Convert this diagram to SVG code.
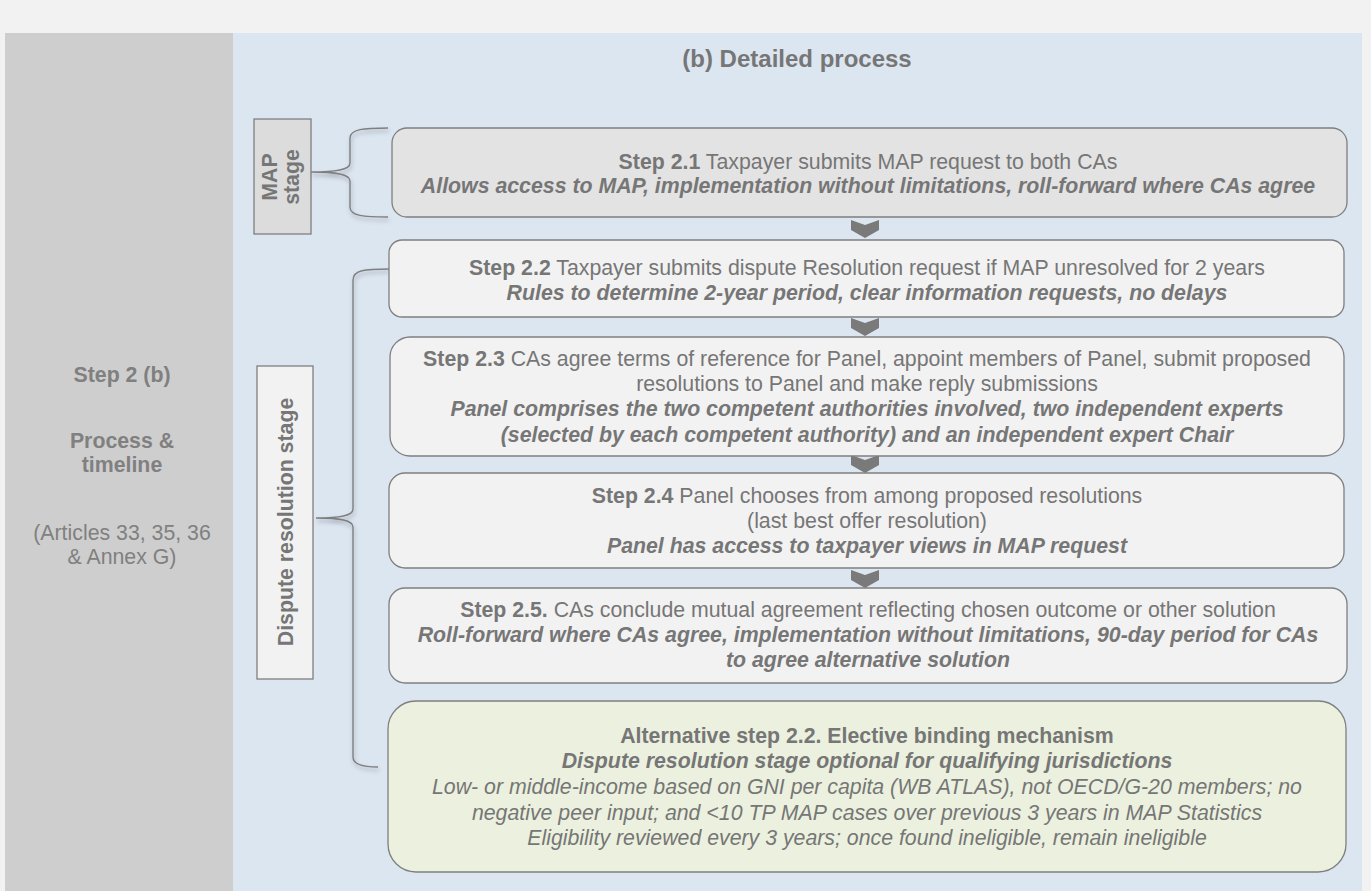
<svg xmlns="http://www.w3.org/2000/svg" width="1371" height="891" viewBox="0 0 1371 891">
  <defs>
    <filter id="braceShadow" x="-20%" y="-5%" width="160%" height="115%">
      <feDropShadow dx="1" dy="3" stdDeviation="2" flood-color="#000" flood-opacity="0.3"/>
    </filter>
    <style>
      text { font-family: "Liberation Sans", Arial, sans-serif; fill: #767676; }
      .body { font-size: 21.3px; text-anchor: middle; }
      .b { font-weight: bold; }
      .bi { font-weight: bold; font-style: italic; }
      .i { font-style: italic; }
      .step { stroke: #7f7f7f; stroke-width: 1.3; }
      .grey { fill: #e3e3e3; }
      .light { fill: #f2f2f2; }
      .green { fill: #ebf1de; }
      .label { fill: #f2f2f2; stroke: #7f7f7f; stroke-width: 1.3; }
      .chev { fill: #7a7a7a; }
      .brace { fill: none; stroke: #7f7f7f; stroke-width: 1.4; filter: url(#braceShadow); }
      .side { font-size: 21.3px; text-anchor: middle; fill: #808080; }
    </style>
  </defs>

  <!-- page and panels -->
  <rect x="0" y="0" width="1371" height="891" fill="#f2f2f2"/>
  <rect x="5" y="33" width="228" height="858" fill="#cecece"/>
  <rect x="233" y="33" width="1129" height="858" fill="#dce6f1"/>

  <text x="797" y="67" font-size="24" font-weight="bold" text-anchor="middle" fill="#737373">(b) Detailed process</text>

  <!-- left column caption -->
  <g id="side-caption">
    <text class="side b" x="122" y="382">Step 2 (b)</text>
    <text class="side b" x="122" y="448">Process &amp;</text>
    <text class="side b" x="122" y="472">timeline</text>
    <text class="side" x="122" y="540">(Articles 33, 35, 36</text>
    <text class="side" x="122" y="564">&amp; Annex G)</text>
  </g>

  <!-- stage labels -->
  <g id="map-stage">
    <rect x="254" y="119" width="57" height="115" fill="#dcdcdc" stroke="#7f7f7f" stroke-width="1.3"/>
    <text class="body b" transform="translate(277,177) rotate(-90)">MAP</text>
    <text class="body b" transform="translate(299,177) rotate(-90)">stage</text>
  </g>
  <g id="dispute-stage">
    <rect class="label" x="257" y="366" width="56" height="313"/>
    <text class="body b" transform="translate(293,522) rotate(-90)">Dispute resolution stage</text>
  </g>

  <!-- braces and flow chevrons -->
  <g id="connectors">
    <path class="brace" d="M388,128 C364,128 350,129 350,138 L350,163 C350,170 336,172 311,172 C336,172 350,174 350,181 L350,207 C350,216 364,217 388,217"/>
    <path class="brace" d="M389,269 C365,269 353,270 353,280 L353,509 C353,516 340,518 316,518 C340,518 353,520 353,527 L353,757 C353,765 364,767 378,767"/>
    <polygon class="chev" points="851,220 865,225 879,220 879,230 865,238 851,230"/>
    <polygon class="chev" points="851,318 865,323 879,318 879,328 865,336 851,328"/>
    <polygon class="chev" points="851,455 865,460 879,455 879,465 865,473 851,465"/>
    <polygon class="chev" points="851,570 865,575 879,570 879,580 865,588 851,580"/>
  </g>

  <g id="step-2-1">
    <rect class="step grey" x="392" y="128" width="955" height="89" rx="15"/>
    <text class="body" x="868" y="169"><tspan class="b">Step 2.1</tspan> Taxpayer submits MAP request to both CAs</text>
    <text class="body bi" x="868" y="193">Allows access to MAP, implementation without limitations, roll-forward where CAs agree</text>
  </g>

  <g id="step-2-2">
    <rect class="step light" x="389" y="240" width="955" height="77" rx="13"/>
    <text class="body" x="867" y="275"><tspan class="b">Step 2.2</tspan> Taxpayer submits dispute Resolution request if MAP unresolved for 2 years</text>
    <text class="body bi" x="867" y="300">Rules to determine 2-year period, clear information requests, no delays</text>
  </g>

  <g id="step-2-3">
    <rect class="step light" x="390" y="337" width="954" height="119" rx="20"/>
    <text class="body" x="867" y="366"><tspan class="b">Step 2.3</tspan> CAs agree terms of reference for Panel, appoint members of Panel, submit proposed</text>
    <text class="body" x="867" y="391">resolutions to Panel and make reply submissions</text>
    <text class="body bi" x="867" y="416">Panel comprises the two competent authorities involved, two independent experts</text>
    <text class="body bi" x="867" y="442">(selected by each competent authority) and an independent expert Chair</text>
  </g>

  <g id="step-2-4">
    <rect class="step light" x="389" y="473" width="955" height="95" rx="16"/>
    <text class="body" x="867" y="503"><tspan class="b">Step 2.4</tspan> Panel chooses from among proposed resolutions</text>
    <text class="body" x="867" y="528">(last best offer resolution)</text>
    <text class="body bi" x="867" y="553">Panel has access to taxpayer views in MAP request</text>
  </g>

  <g id="step-2-5">
    <rect class="step light" x="389" y="588" width="958" height="95" rx="16"/>
    <text class="body" x="868" y="617"><tspan class="b">Step 2.5.</tspan> CAs conclude mutual agreement reflecting chosen outcome or other solution</text>
    <text class="body bi" x="868" y="642">Roll-forward where CAs agree, implementation without limitations, 90-day period for CAs</text>
    <text class="body bi" x="868" y="667">to agree alternative solution</text>
  </g>

  <g id="alternative-step">
    <rect class="step green" x="388" y="701" width="958" height="171" rx="28"/>
    <text class="body b" x="867" y="743">Alternative step 2.2. Elective binding mechanism</text>
    <text class="body bi" x="867" y="768">Dispute resolution stage optional for qualifying jurisdictions</text>
    <text class="body i" x="867" y="794">Low- or middle-income based on GNI per capita (WB ATLAS), not OECD/G-20 members; no</text>
    <text class="body i" x="867" y="820">negative peer input; and &lt;10 TP MAP cases over previous 3 years in MAP Statistics</text>
    <text class="body i" x="867" y="845">Eligibility reviewed every 3 years; once found ineligible, remain ineligible</text>
  </g>
</svg>
